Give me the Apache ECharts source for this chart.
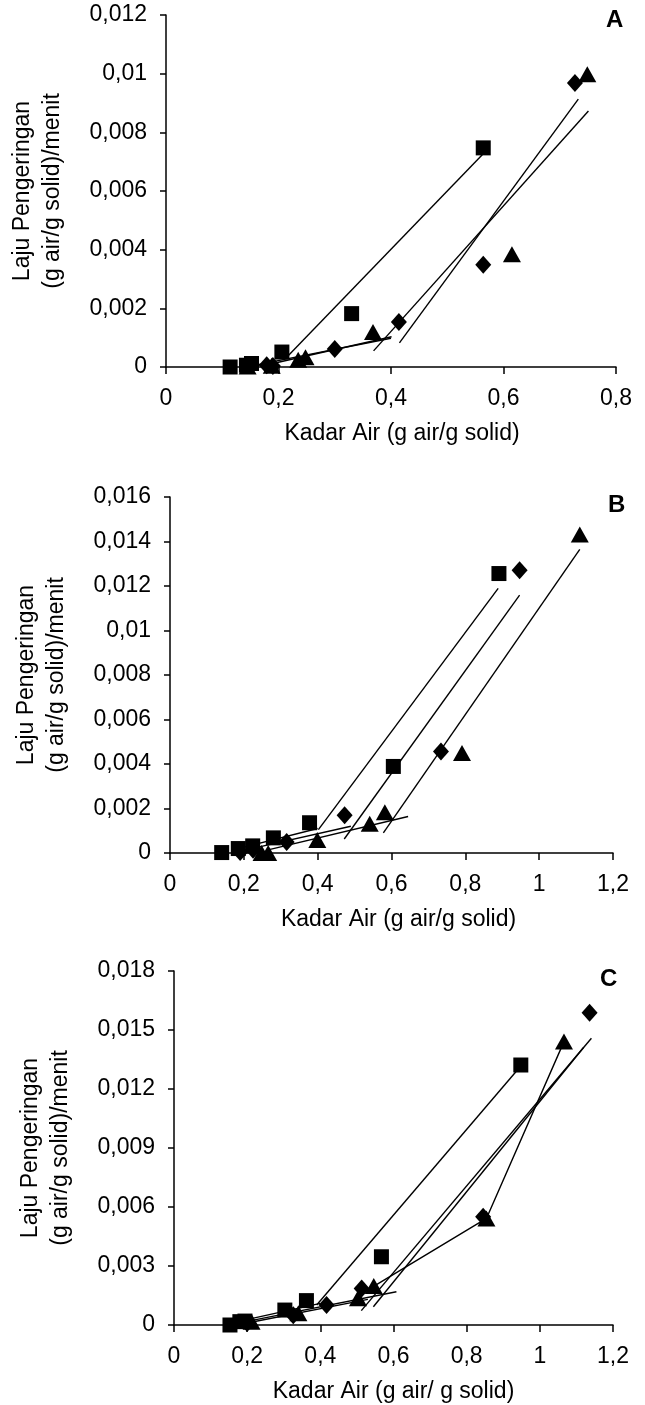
<!DOCTYPE html>
<html>
<head>
<meta charset="utf-8">
<script src="https://cdn.jsdelivr.net/npm/echarts@6/dist/echarts.min.js"></script>
<style>
    html, body { margin: 0; padding: 0; background: #fff; }
    #chart { width: 645px; height: 1405px; }
</style>
</head>
<body>
<div id="chart"></div>
<script>
// panel A
const aSquare = [[0.114, 0], [0.143, 0.00006], [0.152, 0.00012], [0.206, 0.00051], [0.330, 0.00182], [0.564, 0.00747]];
const aDiamond = [[0.179, 0.00006], [0.190, 0.00003], [0.300, 0.00061], [0.414, 0.00153], [0.564, 0.00349], [0.727, 0.00968]];
const aTriangle = [[0.145, 0.00002], [0.188, 0.00004], [0.235, 0.00025], [0.248, 0.00033], [0.368, 0.00119], [0.615, 0.00384], [0.749, 0.00998]];
const aFits = [
    [[0.215, 0.00034], [0.564, 0.00727]],
    [[0.369, 0.00055], [0.751, 0.00873]],
    [[0.415, 0.00082], [0.733, 0.00913]],
    [[0.150, 0.00003], [0.400, 0.00098]],
    [[0.190, 0.00012], [0.401, 0.00103]]
];

// panel B
const bSquare = [[0.140, 0.00002], [0.185, 0.00020], [0.224, 0.00032], [0.280, 0.00068], [0.378, 0.00136], [0.605, 0.00389], [0.891, 0.01256]];
const bDiamond = [[0.190, 0.00004], [0.225, 0.00015], [0.316, 0.00050], [0.473, 0.00170], [0.734, 0.00456], [0.947, 0.01271]];
const bTriangle = [[0.248, 0], [0.266, 0], [0.399, 0.00058], [0.541, 0.00131], [0.582, 0.00183], [0.791, 0.00449], [1.110, 0.01432]];
const bFits = [
    [[0.402, 0.00105], [0.889, 0.01189]],
    [[0.472, 0.00063], [0.947, 0.01159]],
    [[0.578, 0.00090], [1.110, 0.01365]],
    [[0.190, 0.00022], [0.400, 0.00110]],
    [[0.200, 0.00012], [0.490, 0.00120]],
    [[0.260, 0.00012], [0.645, 0.00164]]
];

// panel C
const cSquare = [[0.153, 0], [0.180, 0.00017], [0.194, 0.00020], [0.303, 0.00076], [0.362, 0.00124], [0.567, 0.00347], [0.948, 0.01322]];
const cDiamond = [[0.200, 0.00010], [0.326, 0.00050], [0.417, 0.00102], [0.513, 0.00186], [0.845, 0.00551], [1.136, 0.01588]];
const cTriangle = [[0.212, 0.00017], [0.340, 0.00060], [0.503, 0.00136], [0.546, 0.00198], [0.854, 0.00542], [1.066, 0.01441]];
const cTriangleLink = [[0.540, 0.00190], [0.854, 0.00542], [1.066, 0.01441]];
const cFits = [
    [[0.390, 0.00102], [0.948, 0.01317]],
    [[0.512, 0.00073], [1.141, 0.01458]],
    [[0.545, 0.00093], [1.120, 0.01412]],
    [[0.180, 0.00020], [0.400, 0.00110]],
    [[0.200, 0.00010], [0.530, 0.00130]],
    [[0.217, 0.00025], [0.608, 0.00169]]
];

const xName = ['Kadar Air (g air/g solid)', 'Kadar Air (g air/g solid)', 'Kadar Air (g air/ g solid)'];
const yName = 'Laju Pengeringan\n(g air/g solid)/menit';
const panelLetters = ['A', 'B', 'C'];

const font = 'Liberation Sans';
const fmt = v => String(parseFloat(v.toFixed(4))).replace('.', ',');

function xAxis(idx, max, padLeft) {
    return {
        type: 'value', gridIndex: idx, min: 0, max: max, interval: 0.2,
        name: xName[idx], nameLocation: 'middle', nameGap: 55,
        nameTextStyle: { color: '#000', fontSize: 23, fontFamily: font, padding: [0, 0, 0, padLeft] },
        axisLine: { show: true, onZero: false, lineStyle: { color: '#000', width: 1.5 } },
        axisTick: { show: true, inside: false, length: 7, lineStyle: { color: '#000', width: 1.5 } },
        axisLabel: { color: '#000', fontSize: 23, fontFamily: font, margin: 20, formatter: fmt },
        splitLine: { show: false }
    };
}

function yAxis(idx, max, interval) {
    return {
        type: 'value', gridIndex: idx, min: 0, max: max, interval: interval,
        name: yName, nameLocation: 'middle', nameGap: 98,
        nameTextStyle: { color: '#000', fontSize: 23, fontFamily: font, lineHeight: 30 },
        axisLine: { show: true, onZero: false, lineStyle: { color: '#000', width: 1.5 } },
        axisTick: { show: true, inside: false, length: 6, lineStyle: { color: '#000', width: 1.5 } },
        axisLabel: { color: '#000', fontSize: 23, fontFamily: font, margin: 19, formatter: fmt },
        splitLine: { show: false }
    };
}

function markers(idx, data, symbol, size) {
    return {
        type: 'scatter', xAxisIndex: idx, yAxisIndex: idx, data: data,
        symbol: symbol, symbolSize: size, itemStyle: { color: '#000', opacity: 1 },
        silent: true, z: 3
    };
}

function lineOf(idx, data) {
    return {
        type: 'line', xAxisIndex: idx, yAxisIndex: idx, data: data,
        symbol: 'none', lineStyle: { color: '#000', width: 1.4 },
        silent: true, z: 2, animation: false
    };
}

const series = [];
[[aSquare, aDiamond, aTriangle, aFits], [bSquare, bDiamond, bTriangle, bFits], [cSquare, cDiamond, cTriangle, cFits]]
    .forEach(function (p, i) {
        p[3].forEach(function (seg) { series.push(lineOf(i, seg)); });
        series.push(markers(i, p[0], 'rect', [15, 15]));
        series.push(markers(i, p[1], 'diamond', [16, 18]));
        series.push(markers(i, p[2], 'triangle', [18, 16]));
    });
series.push(lineOf(2, cTriangleLink));

const letterPos = [[606, 8], [608, 493], [600, 967]];

let myChart = echarts.init(document.getElementById('chart'));
myChart.setOption({
    animation: false,
    backgroundColor: '#fff',
    grid: [
        { left: 166, top: 15, width: 450, height: 352, outerBoundsMode: 'none' },
        { left: 170, top: 497, width: 443, height: 356, outerBoundsMode: 'none' },
        { left: 174, top: 971, width: 439, height: 354, outerBoundsMode: 'none' }
    ],
    xAxis: [xAxis(0, 0.8, 22), xAxis(1, 1.2, 14), xAxis(2, 1.2, 0)],
    yAxis: [yAxis(0, 0.012, 0.002), yAxis(1, 0.016, 0.002), yAxis(2, 0.018, 0.003)],
    graphic: panelLetters.map(function (t, i) {
        return {
            type: 'text', left: letterPos[i][0], top: letterPos[i][1],
            style: { text: t, fontSize: 24, fontWeight: 'bold', fontFamily: font, fill: '#000' }
        };
    }),
    series: series
});
</script>
</body>
</html>
